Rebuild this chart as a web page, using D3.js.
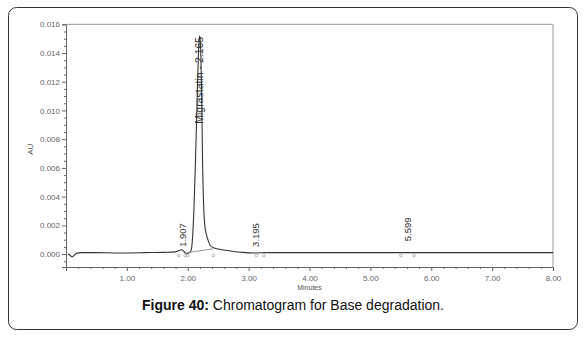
<!DOCTYPE html>
<html>
<head>
<meta charset="utf-8">
<script src="https://cdn.jsdelivr.net/npm/d3@7"></script>
<style>
  body { margin: 0; background: #fff; }
  svg { display: block; font-family: "Liberation Sans", Arial, sans-serif; }
</style>
</head>
<body>
<div id="chart"></div>
<script>
// retention time (minutes) and absorbance (AU)
const times = [0.03, 0.07, 0.1, 0.13, 0.17, 0.25, 0.5, 0.8, 1.0, 1.3, 1.6, 1.8, 1.86, 1.9, 1.93, 1.96, 2.0, 2.05, 2.08, 2.1, 2.12, 2.14, 2.16, 2.18, 2.195, 2.21, 2.23, 2.245, 2.26, 2.28, 2.31, 2.34, 2.37, 2.42, 2.5, 2.7, 2.9, 3.1, 3.3, 3.6, 4.0, 4.5, 5.0, 5.6, 6.0, 7.0, 8.0];
const absorb = [0.0, -0.0001, -0.0002, -0.0001, 0.00005, 0.0001, 0.0001, 0.00008, 0.00008, 0.0001, 0.00012, 0.00015, 0.00025, 0.0003, 0.00022, 0.00007, 0.00005, 0.0002, 0.0012, 0.003, 0.0055, 0.0085, 0.0118, 0.0143, 0.0152, 0.0146, 0.0105, 0.006, 0.0035, 0.002, 0.0013, 0.0009, 0.0006, 0.00045, 0.00035, 0.00022, 0.00012, 0.00008, 0.0001, 0.0001, 0.0001, 0.0001, 0.0001, 0.0001, 0.0001, 0.0001, 0.0001];

// integration baseline under the main peak
const baseTimes = [2.0, 2.42];
const baseAbsorb = [0.0001, 0.00037];

// integration marks (start/end of each peak)
const markTimes = [1.85, 1.96, 2.0, 2.42, 3.13, 3.25, 5.5, 5.72];

// peak labels
const peakLabels = ["1.907", "Migrastatin - 2.165", "3.195", "5.599"];
const peakTimes = [1.907, 2.165, 3.195, 5.599];

const xTicks = [1, 2, 3, 4, 5, 6, 7, 8];
const yTicks = [0, 0.002, 0.004, 0.006, 0.008, 0.010, 0.012, 0.014, 0.016];

const W = 586, H = 337;
const svg = d3.select("#chart").append("svg").attr("width", W).attr("height", H);

// outer frame
svg.append("rect")
    .attr("x", 8.5).attr("y", 7.5)
    .attr("width", 569).attr("height", 322)
    .attr("rx", 8).attr("ry", 8)
    .attr("fill", "none").attr("stroke", "#333").attr("stroke-width", 1);

const x = d3.scaleLinear().domain([0, 8]).range([66, 553]);
const y = d3.scaleLinear().domain([-0.0009, 0.016]).range([267, 24.3]);

const g = svg.append("g");

// plot border (top and right)
g.append("path")
    .attr("d", `M${x(0)},${y(0.016)}H${x(8)}V${y(-0.0009)}`)
    .attr("fill", "none").attr("stroke", "#999").attr("stroke-width", 1);

// y axis
g.append("g").attr("transform", `translate(${x(0)},0)`)
    .call(d3.axisLeft(y).tickValues(yTicks).tickFormat(d3.format(".3f")).tickSize(4).tickPadding(2));
g.append("g").attr("transform", `translate(${x(0)},0)`)
    .call(d3.axisLeft(y).tickValues(d3.range(-0.0005, 0.0161, 0.0005).filter(v => Math.abs(Math.round(v * 1e4) % 20) !== 0)).tickFormat("").tickSize(2))
    .select(".domain").remove();

// x axis
g.append("g").attr("transform", `translate(0,${y(-0.0009)})`)
    .call(d3.axisBottom(x).tickValues(xTicks).tickFormat(d3.format(".2f")).tickSize(4).tickPadding(4));
g.append("g").attr("transform", `translate(0,${y(-0.0009)})`)
    .call(d3.axisBottom(x).tickValues(d3.range(0.2, 8, 0.2).filter(v => Math.abs(v - Math.round(v)) > 0.01)).tickFormat("").tickSize(2))
    .select(".domain").remove();

g.selectAll(".domain").attr("stroke", "#666");
g.selectAll(".tick line").attr("stroke", "#666");
g.selectAll(".tick text").attr("fill", "#666").style("font-size", "8px");

// axis titles
g.append("text")
    .attr("transform", `translate(33,${y(0.0073)}) rotate(-90)`)
    .attr("text-anchor", "middle")
    .attr("fill", "#555").style("font-size", "8px")
    .text("AU");
g.append("text")
    .attr("x", x(4)).attr("y", 290)
    .attr("text-anchor", "middle")
    .attr("fill", "#555").style("font-size", "7px")
    .text("Minutes");

// chromatogram trace
const points = times.map((t, i) => [t, absorb[i]]);
const line = d3.line().x(d => x(d[0])).y(d => y(d[1])).curve(d3.curveMonotoneX);
g.append("path")
    .attr("d", line(points))
    .attr("fill", "none").attr("stroke", "#333").attr("stroke-width", 1.1);

// integration baseline
g.append("path")
    .attr("d", d3.line().x(d => x(d[0])).y(d => y(d[1]))(baseTimes.map((t, i) => [t, baseAbsorb[i]])))
    .attr("fill", "none").attr("stroke", "#777").attr("stroke-width", 0.8);

// integration marks
g.selectAll(".mark").data(markTimes).enter().append("circle")
    .attr("class", "mark")
    .attr("cx", d => x(d)).attr("cy", y(-0.0001))
    .attr("r", 1.3)
    .attr("fill", "none").attr("stroke", "#888").attr("stroke-width", 0.6);

// peak labels (rotated), small nudges to sit like the instrument printout
const labelDx = [4, 5, -1, 4];
const labelY = [0.0005, 0.0121, 0.0005, 0.0009];
g.selectAll(".plabel").data(peakLabels).enter().append("text")
    .attr("class", "plabel")
    .attr("transform", (d, i) => `translate(${x(peakTimes[i]) + labelDx[i]},${y(labelY[i])}) rotate(-90)`)
    .attr("text-anchor", d => d.length > 6 ? "middle" : "start")
    .attr("fill", "#333")
    .style("font-size", d => d.length > 6 ? "10.5px" : "9.5px")
    .text(d => d);

// caption
const cap = svg.append("text")
    .attr("x", 293).attr("y", 310)
    .attr("text-anchor", "middle")
    .attr("fill", "#111")
    .style("font-size", "14px");
cap.append("tspan").attr("font-weight", "bold").text("Figure 40:");
cap.append("tspan").text(" Chromatogram for Base degradation.");
</script>
</body>
</html>
